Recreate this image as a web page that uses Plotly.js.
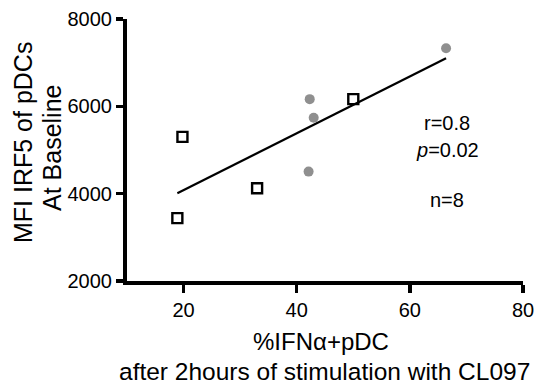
<!DOCTYPE html>
<html>
<head>
<meta charset="utf-8">
<script src="https://cdn.plot.ly/plotly-3.0.1.min.js"></script>
<style>html,body{margin:0;padding:0;background:#fff;}#chart{width:540px;height:387px;}</style>
</head>
<body>
<div id="chart"></div>
<script>
// Data
const squareX = [18.9, 19.8, 33.0, 50.0];
const squareY = [3440, 5300, 4125, 6165];
const circleX = [42.3, 43.0, 42.1, 66.4];
const circleY = [6165, 5740, 4505, 7330];
const xTicks = [20, 40, 60, 80];
const yTicks = [2000, 4000, 6000, 8000];
const statLines = ["r=0.8", "<i>p</i>=0.02", "n=8"];
const xTitleLines = ["%IFNα+pDC", "after 2hours of stimulation with CL097"];
const yTitleLines = ["MFI IRF5 of pDCs", "At Baseline"];

// Linear regression over all points
const allX = squareX.concat(circleX);
const allY = squareY.concat(circleY);
const n = allX.length;
const mx = allX.reduce((a, b) => a + b, 0) / n;
const my = allY.reduce((a, b) => a + b, 0) / n;
let sxy = 0, sxx = 0;
for (let i = 0; i < n; i++) { sxy += (allX[i] - mx) * (allY[i] - my); sxx += (allX[i] - mx) ** 2; }
const slope = sxy / sxx;
const icpt = my - slope * mx;
const fitX = [Math.min(...allX), Math.max(...allX)];
const fitY = fitX.map(x => icpt + slope * x);

const FONT = "Liberation Sans, Arial, Helvetica, sans-serif";
const L = 127, R = 523, T = 19, B = 281;
const px = v => (v - L) / (R - L);
const py = v => (B - v) / (B - T);

const traces = [
  {x: fitX, y: fitY, mode: "lines", line: {color: "#000", width: 2.2}, hoverinfo: "skip"},
  {x: circleX, y: circleY, mode: "markers", marker: {symbol: "circle", size: 10, color: "#8f8f8f", line: {width: 0}}},
  {x: squareX, y: squareY, mode: "markers", marker: {symbol: "square-open", size: 10, color: "#000", line: {width: 2.4, color: "#000"}}}
];

const ann = [];
ann.push({text: yTitleLines[0], textangle: -90, xref: "paper", yref: "paper", x: px(23), y: py(142),
  xanchor: "center", yanchor: "middle", showarrow: false, font: {size: 25, family: FONT, color: "#000"}});
ann.push({text: yTitleLines[1], textangle: -90, xref: "paper", yref: "paper", x: px(52), y: py(148),
  xanchor: "center", yanchor: "middle", showarrow: false, font: {size: 25, family: FONT, color: "#000"}});
ann.push({text: xTitleLines[0], xref: "paper", yref: "paper", x: px(321), y: py(341),
  xanchor: "center", yanchor: "middle", showarrow: false, font: {size: 24, family: FONT, color: "#000"}});
ann.push({text: xTitleLines[1], xref: "paper", yref: "paper", x: px(324), y: py(371),
  xanchor: "center", yanchor: "middle", showarrow: false, font: {size: 24.5, family: FONT, color: "#000"}});
const statY = [123, 150, 200];
statLines.forEach((s, i) => ann.push({text: s, xref: "paper", yref: "paper", x: px(447), y: py(statY[i]),
  xanchor: "center", yanchor: "middle", showarrow: false, font: {size: 20, family: FONT, color: "#000"}}));

const layout = {
  width: 540, height: 387,
  margin: {l: L, r: 540 - R, t: T, b: 387 - B},
  paper_bgcolor: "#fff", plot_bgcolor: "#fff",
  showlegend: false,
  font: {family: FONT, color: "#000", size: 20},
  xaxis: {
    range: [10, 80], tickvals: xTicks, ticktext: xTicks.map(String),
    showgrid: false, zeroline: false, showline: true, linecolor: "#000", linewidth: 4,
    ticks: "outside", ticklen: 8, tickwidth: 3.5, tickcolor: "#000",
    tickfont: {size: 20, family: FONT, color: "#000"}
  },
  yaxis: {
    range: [2000, 8000], tickvals: yTicks, ticktext: yTicks.map(String),
    showgrid: false, zeroline: false, showline: true, linecolor: "#000", linewidth: 4,
    ticks: "outside", ticklen: 7, tickwidth: 3.5, tickcolor: "#000",
    tickfont: {size: 20, family: FONT, color: "#000"}
  },
  annotations: ann
};

Plotly.newPlot("chart", traces, layout, {staticPlot: true, displayModeBar: false});
</script>
</body>
</html>
